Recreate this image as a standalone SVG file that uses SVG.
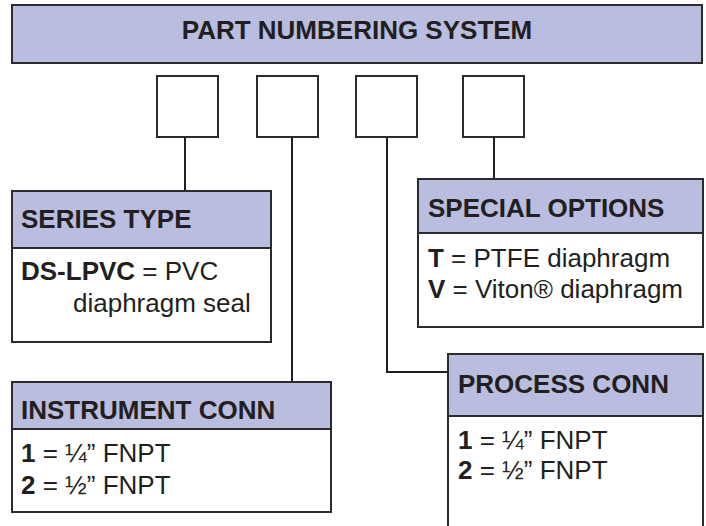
<svg xmlns="http://www.w3.org/2000/svg" width="706" height="526" viewBox="0 0 706 526">
<style>
.hdr{fill:#b9bddf;stroke:#2b2b2b;stroke-width:2}
.box{fill:#ffffff;stroke:#2b2b2b;stroke-width:2}
.sep{stroke:#2b2b2b;stroke-width:2}
.con{fill:none;stroke:#231f20;stroke-width:2}
text{font-family:"Liberation Sans",Arial,sans-serif;font-size:26px;fill:#231f20}
.b{font-weight:bold}
</style>
<rect width="706" height="526" fill="#ffffff"/>
<g id="title">
<rect class="hdr" x="12" y="5" width="690" height="58"/>
<text class="b" x="357" y="39" text-anchor="middle">PART NUMBERING SYSTEM</text>
</g>
<g id="slot1"><rect class="box" x="157" y="76" width="61" height="61"/></g>
<g id="slot2"><rect class="box" x="257" y="76" width="61" height="61"/></g>
<g id="slot3"><rect class="box" x="356" y="76" width="61" height="61"/></g>
<g id="slot4"><rect class="box" x="463" y="76" width="61" height="61"/></g>
<g id="connectors">
<path class="con" d="M185 137V191"/>
<path class="con" d="M292 137V382"/>
<path class="con" d="M387 137V372H448"/>
<path class="con" d="M494 137V179"/>
</g>
<g id="series-type">
<rect class="box" x="12" y="191" width="259" height="151"/>
<rect class="hdr" x="12" y="191" width="259" height="57"/>
<text class="b" x="21" y="228">SERIES TYPE</text>
<text x="21" y="280"><tspan class="b">DS-LPVC</tspan> = PVC</text>
<text x="73" y="312">diaphragm seal</text>
</g>
<g id="special-options">
<rect class="box" x="418" y="179" width="285" height="148"/>
<rect class="hdr" x="418" y="179" width="285" height="54"/>
<text class="b" x="428" y="217">SPECIAL OPTIONS</text>
<text x="428" y="267"><tspan class="b">T</tspan> = PTFE diaphragm</text>
<text x="428" y="298"><tspan class="b">V</tspan> = Viton® diaphragm</text>
</g>
<g id="instrument-conn">
<rect class="box" x="12" y="382" width="319" height="130"/>
<rect class="hdr" x="12" y="382" width="319" height="47"/>
<text class="b" x="21" y="419">INSTRUMENT CONN</text>
<text x="21" y="462"><tspan class="b">1</tspan> = ¼” FNPT</text>
<text x="21" y="494"><tspan class="b">2</tspan> = ½” FNPT</text>
</g>
<g id="process-conn">
<rect class="box" x="448" y="354" width="255" height="176"/>
<rect class="hdr" x="448" y="354" width="255" height="62"/>
<text class="b" x="458" y="393">PROCESS CONN</text>
<text x="458" y="449"><tspan class="b">1</tspan> = ¼” FNPT</text>
<text x="458" y="479"><tspan class="b">2</tspan> = ½” FNPT</text>
</g>
</svg>
